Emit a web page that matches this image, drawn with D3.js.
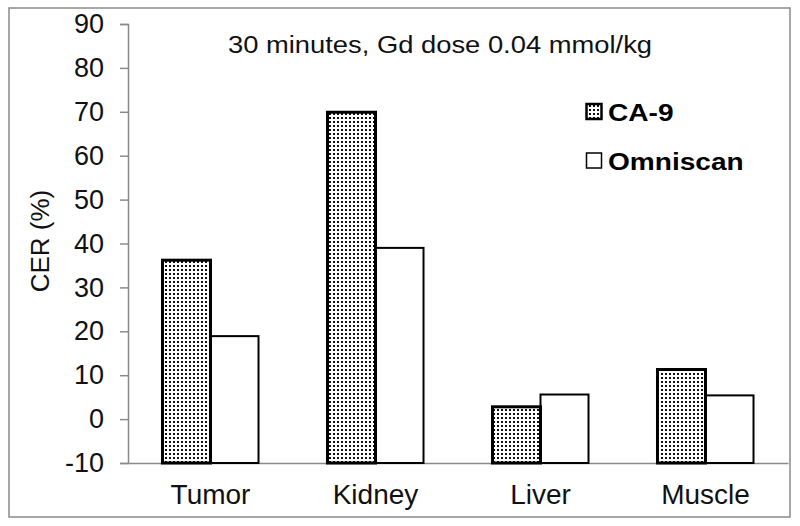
<!DOCTYPE html>
<html><head><meta charset="utf-8">
<script src="https://cdn.jsdelivr.net/npm/d3@7"></script>
<style>body{margin:0;background:#fff}text{font-family:Arial,"Liberation Sans",sans-serif}</style>
</head><body><svg id="c" width="800" height="526"></svg>
<script>
const categories = ["Tumor","Kidney","Liver","Muscle"];
const seriesNames = ["CA-9","Omniscan"];
const ca9 = [36.2, 69.9, 2.8, 11.3];
const omniscan = [18.9, 39.0, 5.6, 5.4];
const yTicks = [-10,0,10,20,30,40,50,60,70,80,90];
const title = "30 minutes, Gd dose 0.04 mmol/kg";
const yLabel = "CER (%)";

const svg = d3.select("#c");
const defs = svg.append("defs");
const pat = defs.append("pattern").attr("id","dots").attr("patternUnits","userSpaceOnUse")
  .attr("width",4).attr("height",4);
pat.append("rect").attr("width",4).attr("height",4).attr("fill","#fff");
pat.append("rect").attr("x",1).attr("y",1).attr("width",2).attr("height",2).attr("fill","#111");

svg.append("rect").attr("x",9).attr("y",8).attr("width",781).attr("height",509)
  .attr("fill","none").attr("stroke","#8a8a8a").attr("stroke-width",1.5);

const x = d3.scaleBand().domain(categories).range([128,788]).paddingInner(0.418).paddingOuter(0.209);
const xs = d3.scaleBand().domain(seriesNames).range([0,x.bandwidth()]);
const y = d3.scaleLinear().domain([-10,90]).range([463,24]);

// y axis
const yAx = svg.append("g").attr("transform","translate(128,0)")
  .call(d3.axisLeft(y).tickValues(yTicks).tickSize(8).tickPadding(16).tickFormat(d => String(d)));
yAx.select(".domain").attr("stroke","#8a8a8a").attr("stroke-width",1.5);
yAx.selectAll(".tick line").attr("stroke","#8a8a8a").attr("stroke-width",1.5);
yAx.selectAll(".tick text").attr("font-size",27).attr("fill","#111").attr("font-family","Arial, Liberation Sans, sans-serif");

// x axis
const xAx = svg.append("g").attr("transform","translate(0,463)")
  .call(d3.axisBottom(x).tickSize(0).tickPadding(21));
xAx.select(".domain").attr("stroke","#8a8a8a").attr("stroke-width",1.5);
xAx.selectAll(".tick text").attr("font-size",28).attr("fill","#111").attr("font-family","Arial, Liberation Sans, sans-serif");

const data = [];
categories.forEach((c,i)=>{
  data.push({c, s:"CA-9", v:ca9[i]});
  data.push({c, s:"Omniscan", v:omniscan[i]});
});
svg.append("g").selectAll("rect").data(data.filter(d=>d.s==="Omniscan")).join("rect")
  .attr("x",d=>x(d.c)+xs(d.s)).attr("width",xs.bandwidth())
  .attr("y",d=>y(d.v)).attr("height",d=>y(-10)-y(d.v))
  .attr("fill","#fff").attr("stroke","#000").attr("stroke-width",2);
svg.append("g").selectAll("rect").data(data.filter(d=>d.s==="CA-9")).join("rect")
  .attr("x",d=>x(d.c)+xs(d.s)).attr("width",xs.bandwidth())
  .attr("y",d=>y(d.v)).attr("height",d=>y(-10)-y(d.v))
  .attr("fill","url(#dots)").attr("stroke","#000").attr("stroke-width",3);

// title
svg.append("text").attr("transform","translate(440,53) scale(1.14,1)").attr("text-anchor","middle")
  .attr("font-size",24).attr("fill","#111").text(title);

// y label
svg.append("text").attr("transform","translate(49,241) rotate(-90)").attr("text-anchor","middle")
  .attr("font-size",26).attr("fill","#111").text(yLabel);

// legend
const leg = svg.append("g");
seriesNames.forEach((s,i)=>{
  const gy = 104 + i*49;
  leg.append("rect").attr("x",586.5).attr("y",gy).attr("width",15).attr("height",15)
    .attr("fill", i===0 ? "url(#dots)" : "#fff").attr("stroke","#000").attr("stroke-width", i===0?2.5:1.5);
  leg.append("text").attr("transform",`translate(608,${gy+17}) scale(1.17,1)`)
    .attr("font-size",24).attr("font-weight","bold").attr("fill","#000").text(s);
});
</script></body></html>
